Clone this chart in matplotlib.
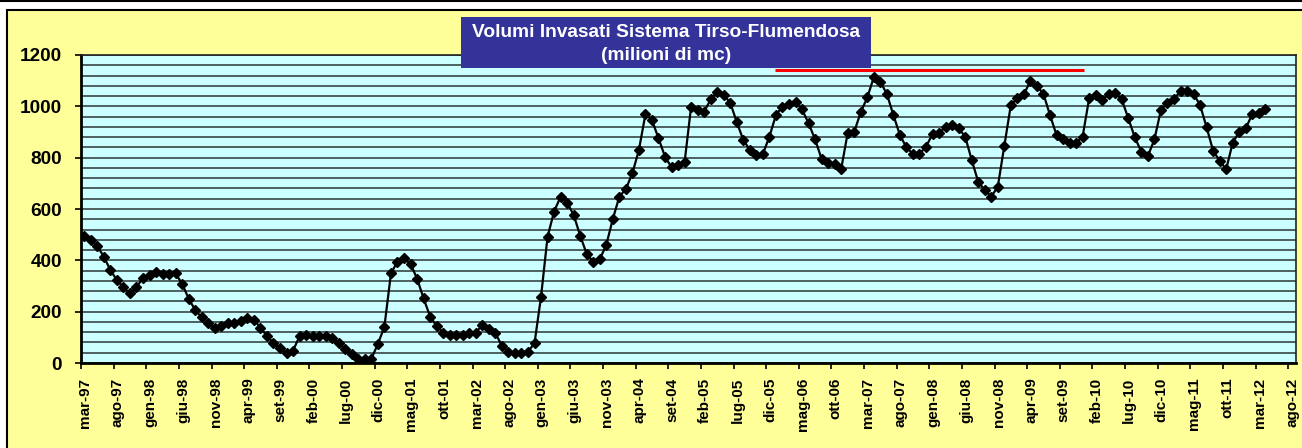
import matplotlib
matplotlib.use("Agg")
import matplotlib.pyplot as plt
import matplotlib.transforms as mtransforms
from matplotlib.patches import Rectangle
import numpy as np

# Monthly stored volume, mar-97 .. apr-12 (milioni di mc)
volumes = [
    495, 479, 456, 414, 362, 323, 295, 271, 295, 332,
    343, 356, 347, 347, 349, 308, 251, 206, 178, 157,
    136, 144, 155, 157, 164, 174, 168, 138, 105, 77,
    57, 40, 48, 105, 109, 105, 105, 105, 96, 77,
    55, 34, 16, 14, 17, 74, 142, 349, 395, 408,
    386, 329, 252, 181, 144, 118, 110, 109, 109, 116,
    118, 148, 131, 118, 66, 44, 40, 40, 44, 77,
    258, 492, 590, 648, 625, 577, 496, 425, 395, 404,
    460, 561, 648, 678, 739, 830, 969, 947, 875, 804,
    762, 771, 782, 999, 986, 979, 1027, 1057, 1044, 1014,
    938, 869, 830, 809, 814, 882, 966, 999, 1008, 1018,
    988, 934, 871, 795, 778, 774, 756, 897, 901, 977,
    1035, 1113, 1096, 1048, 966, 888, 840, 814, 814, 843,
    892, 897, 918, 927, 914, 882, 791, 706, 674, 648,
    687, 847, 1005, 1031, 1047, 1099, 1080, 1048, 966, 888,
    871, 858, 858, 882, 1031, 1044, 1025, 1047, 1051, 1027,
    953, 879, 823, 806, 871, 986, 1012, 1027, 1061, 1061,
    1048, 1005, 918, 827, 788, 755, 858, 901, 914, 970,
    973, 988,
]

tick_labels = [
    "mar-97", "ago-97", "gen-98", "giu-98", "nov-98", "apr-99", "set-99",
    "feb-00", "lug-00", "dic-00", "mag-01", "ott-01", "mar-02", "ago-02",
    "gen-03", "giu-03", "nov-03", "apr-04", "set-04", "feb-05", "lug-05",
    "dic-05", "mag-06", "ott-06", "mar-07", "ago-07", "gen-08", "giu-08",
    "nov-08", "apr-09", "set-09", "feb-10", "lug-10", "dic-10", "mag-11",
    "ott-11", "mar-12", "ago-12",
]

# red reference line (value, start month, end month)
ref_level = 1140
ref_start, ref_end = 106.4, 153.7

title_lines = ["Volumi Invasati Sistema Tirso-Flumendosa", "(milioni di mc)"]

W, H = 1302, 448
fig = plt.figure(figsize=(W / 100, H / 100), dpi=100, facecolor="white")
plt.rcParams["font.family"] = ["Liberation Sans", "DejaVu Sans"]


def px(x0, y0, x1, y1):
    """pixel box (top-left origin) -> figure fraction rect"""
    return x0 / W, 1 - y1 / H, (x1 - x0) / W, (y1 - y0) / H


# chart area background
fig.patches.append(Rectangle((7 / W, -0.05), 1.1, 1 - 10.5 / H + 0.05, transform=fig.transFigure,
                             facecolor="#FFFF99", edgecolor="black", lw=1.5, zorder=-2))
fig.lines.append(plt.Line2D([0, 1], [1 - 1 / H, 1 - 1 / H], transform=fig.transFigure,
                            color="black", lw=1.5))

ax = fig.add_axes(px(81, 55, 1296, 363))
ax.set_facecolor("#CCFFFF")

months = np.arange(len(volumes)) + 0.5
ax.plot(months, volumes, color="black", lw=1.6, marker="D", markersize=5, zorder=3)
ax.hlines(ref_level, ref_start, ref_end, color="#FF0000", lw=2.2, zorder=3)

ax.set_xlim(0, 186.2)
ax.set_ylim(0, 1200)
ax.set_yticks(np.arange(0, 1201, 200))
ax.set_yticks(np.arange(0, 1201, 40), minor=True)
ax.grid(which="both", axis="y", color="#2b3535", lw=1.1)
ax.set_axisbelow(True)
ax.tick_params(axis="y", which="minor", length=0)
ax.tick_params(axis="y", which="major", length=4.5, width=1.2, pad=9, labelsize=13.7)
for lab in ax.get_yticklabels():
    lab.set_fontweight("bold")

ax.set_xticks(np.arange(0, 186, 5))
ax.set_xticklabels(tick_labels, rotation=90, fontsize=11, fontweight="bold")
ax.tick_params(axis="x", length=4.5, width=1.2, pad=6)
shift = mtransforms.ScaledTranslation(4 / 100, 0, fig.dpi_scale_trans)
for lab in ax.get_xticklabels():
    lab.set_transform(lab.get_transform() + shift)

for side in ["top", "right"]:
    ax.spines[side].set_color("#222222")
    ax.spines[side].set_linewidth(1.2)
for side in ["left", "bottom"]:
    ax.spines[side].set_linewidth(2)

# title box
fig.patches.append(Rectangle(px(461, 17, 871, 68)[:2], 410 / W, 51 / H, transform=fig.transFigure,
                             facecolor="#333399", edgecolor="none", zorder=5))
fig.text(666 / W, 1 - 32.5 / H, title_lines[0], color="white", fontsize=13.8, fontweight="bold",
         ha="center", va="center", zorder=6)
fig.text(666 / W, 1 - 55 / H, title_lines[1], color="white", fontsize=13.8, fontweight="bold",
         ha="center", va="center", zorder=6)

fig.savefig("out.png", dpi=100, facecolor="white")
